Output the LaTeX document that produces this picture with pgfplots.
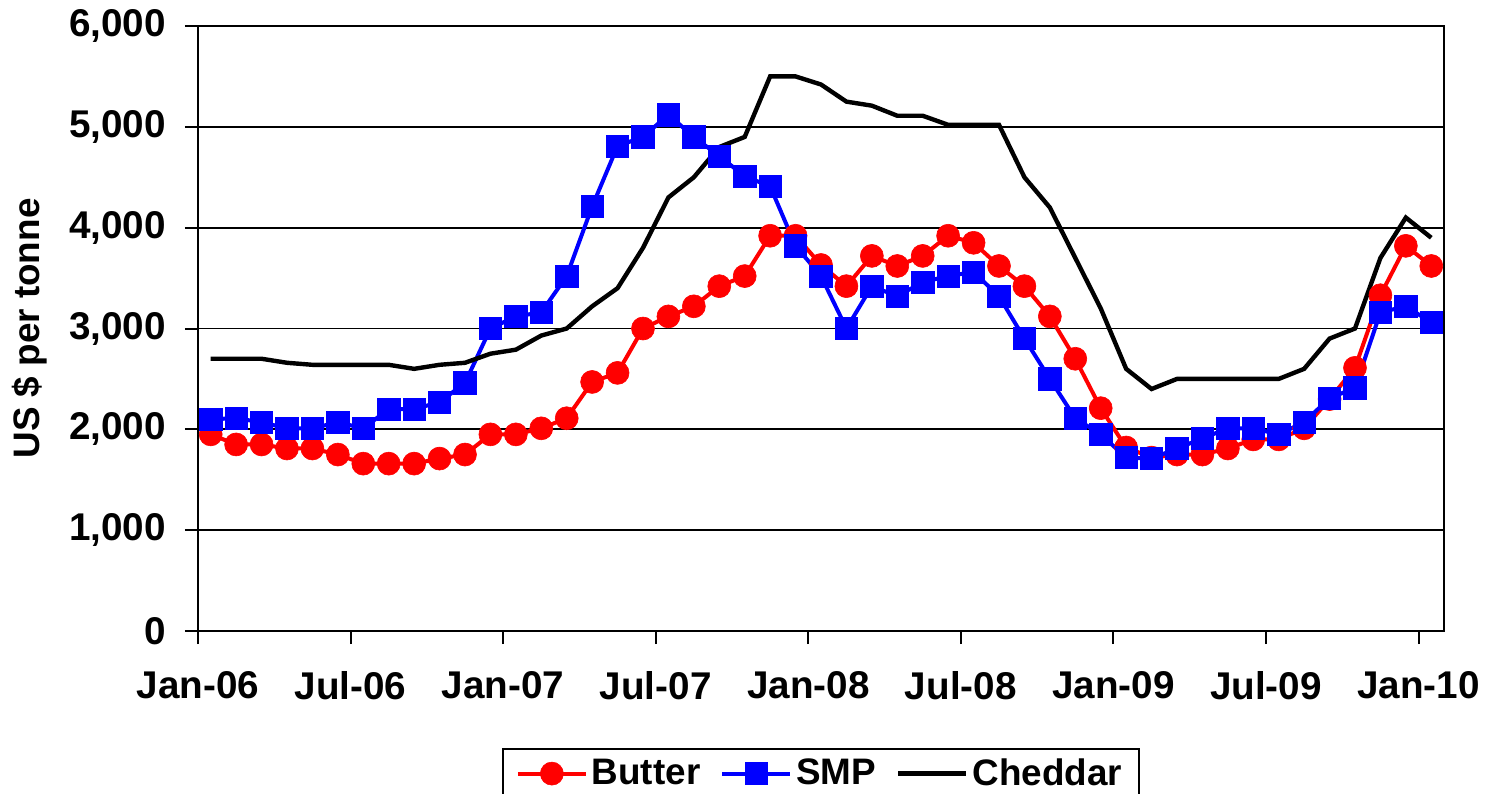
\documentclass[border=0pt]{standalone}
\usepackage{fontspec}
\setmainfont{Liberation Sans}
\usepackage{pgfplots}
\usepackage{pgfplotstable}
\pgfplotsset{compat=1.18}
\pgfplotstableread{
x butter smp cheddar
0.5 1950 2100 2700
1.5 1850 2110 2700
2.5 1850 2070 2700
3.5 1810 2010 2660
4.5 1810 2010 2640
5.5 1750 2070 2640
6.5 1660 2010 2640
7.5 1660 2200 2640
8.5 1660 2200 2600
9.5 1710 2270 2640
10.5 1750 2460 2660
11.5 1950 3000 2750
12.5 1950 3120 2790
13.5 2010 3160 2930
14.5 2110 3520 3000
15.5 2470 4210 3220
16.5 2560 4810 3400
17.5 3000 4900 3800
18.5 3120 5120 4300
19.5 3220 4900 4500
20.5 3420 4710 4800
21.5 3520 4510 4900
22.5 3920 4410 5500
23.5 3920 3820 5500
24.5 3630 3520 5420
25.5 3420 3000 5250
26.5 3720 3420 5210
27.5 3620 3320 5110
28.5 3720 3460 5110
29.5 3920 3520 5020
30.5 3850 3560 5020
31.5 3620 3320 5020
32.5 3420 2900 4500
33.5 3120 2500 4200
34.5 2700 2110 3700
35.5 2210 1950 3200
36.5 1820 1720 2600
37.5 1720 1710 2400
38.5 1750 1810 2500
39.5 1750 1910 2500
40.5 1810 2010 2500
41.5 1900 2010 2500
42.5 1900 1950 2500
43.5 2010 2070 2600
44.5 2300 2310 2900
45.5 2610 2410 3000
46.5 3330 3160 3700
47.5 3820 3220 4100
48.5 3620 3060 3900
}\datatable
\begin{document}
\begin{tikzpicture}
\begin{axis}[
  scale only axis, width=623bp, height=302.5bp,
  xmin=0, xmax=49, ymin=0, ymax=6000,
  xtick={0,6,...,48},
  xticklabels={Jan-06,Jul-06,Jan-07,Jul-07,Jan-08,Jul-08,Jan-09,Jul-09,Jan-10},
  ytick={0,1000,...,6000},
  ymajorgrids, grid style={black, line width=0.9bp},
  axis line style={line width=1bp},
  tick style={black, line width=1bp},
  major tick length=6.5bp, tick align=outside,
  xtick pos=left, ytick pos=left,
  /pgf/number format/.cd, 1000 sep={,}, assume math mode=true, /pgfplots/.cd,
  tick label style={font=\fontsize{19.4}{23}\selectfont\bfseries},
  yticklabel style={xshift=-6bp},
  xticklabel style={yshift=-10bp},
  ylabel={US \$ per tonne},
  every axis y label/.style={at={(axis description cs:0,0.5)}, xshift=-84bp, rotate=90, anchor=center, font=\fontsize{18.5}{22}\selectfont\bfseries},
  legend columns=3,
  legend style={at={(0.5,-0.193)}, anchor=north, draw=black, line width=1bp,
    font=\fontsize{18.5}{22}\selectfont\bfseries, inner xsep=6.5bp, inner ysep=3bp,
    /tikz/every even column/.append style={column sep=8bp}},
  legend image code/.code={\draw[mark repeat=2, mark phase=2] plot coordinates {(0bp,0bp) (17bp,0bp) (34bp,0bp)};},
]
\addplot[red, line width=2bp, mark=*, mark size=5.75bp, mark options={fill=red, line width=0.3bp}] table[x=x, y=butter] {\datatable};
\addlegendentry{Butter}
\addplot[blue, line width=2bp, mark=square*, mark size=5.6bp, mark options={fill=blue, line width=0.3bp}] table[x=x, y=smp] {\datatable};
\addlegendentry{SMP}
\addplot[black, line width=2.2bp] table[x=x, y=cheddar] {\datatable};
\addlegendentry{Cheddar}
\end{axis}
\pgfresetboundingbox
\useasboundingbox (-99bp,-81.5bp) rectangle (647bp,315.5bp);
\end{tikzpicture}
\end{document}
